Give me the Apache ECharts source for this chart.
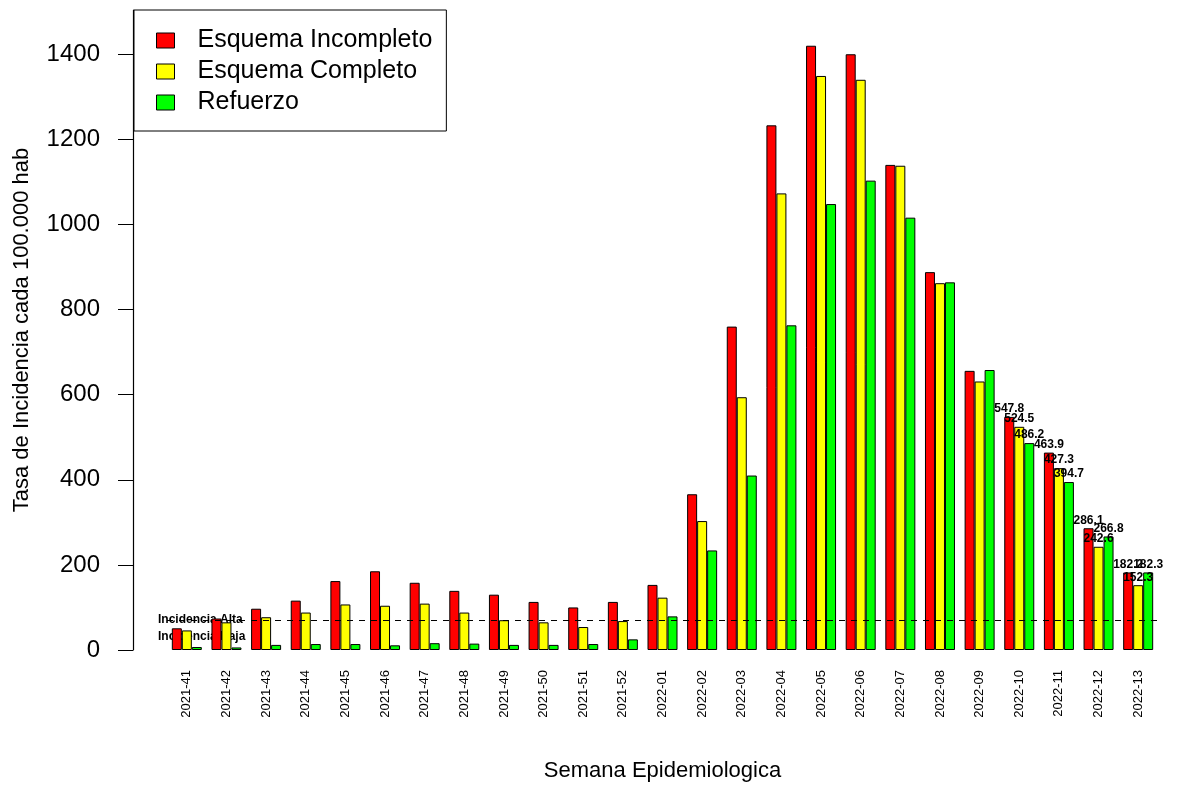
<!DOCTYPE html>
<html><head><meta charset="utf-8">
<script src="https://cdn.jsdelivr.net/npm/echarts@6/dist/echarts.min.js"></script>
<style>html,body{margin:0;background:#fff}#c{width:1185px;height:787px}</style>
</head><body><div id="c"></div>
<script>
var categorias = ['2021-41','2021-42','2021-43','2021-44','2021-45','2021-46','2021-47','2021-48','2021-49','2021-50','2021-51','2021-52',
  '2022-01','2022-02','2022-03','2022-04','2022-05','2022-06','2022-07','2022-08','2022-09','2022-10','2022-11','2022-12','2022-13'];
var incompleto = [51, 74, 97, 116, 162, 185, 158, 139, 130, 113, 100, 113, 153, 366, 760, 1233, 1420, 1400, 1140, 888, 656, 547.8, 463.9, 286.1, 182.2];
var completo   = [46, 65, 77, 88, 107, 104, 109, 88, 70, 65, 54, 68, 123, 303, 594, 1073, 1349, 1340, 1138, 862, 631, 524.5, 427.3, 242.6, 152.3];
var refuerzo   = [7, 6, 12, 14, 14, 11, 16, 15, 12, 12, 14, 25, 79, 234, 410, 763, 1048, 1103, 1016, 864, 658, 486.2, 394.7, 266.8, 182.3];
var umbral = 70;
var conEtiqueta = 4; // ultimas semanas con el valor escrito

var chart = echarts.init(document.getElementById('c'));
var n = categorias.length;

function serie(name, color, data) {
  return {
    name: name, type: 'bar', barWidth: 10, barGap: '0%',
    itemStyle: { color: color, borderColor: '#000', borderWidth: 1 },
    data: data.map(function (v, i) {
      return i >= n - conEtiqueta ? { value: v, label: { show: true } } : v;
    }),
    label: { show: false, position: 'top', distance: 2, fontSize: 12, fontWeight: 'bold', color: '#000' }
  };
}

var s1 = serie('Esquema Incompleto', '#ff0000', incompleto);
s1.markLine = {
  silent: true, symbol: 'none', animation: false,
  lineStyle: { color: '#000', type: [6, 6], width: 1 },
  label: { show: false },
  data: [{ yAxis: umbral }]
};

chart.setOption({
  animation: false,
  textStyle: { fontFamily: 'Liberation Sans' },
  grid: { left: 167, right: 27, top: 10, bottom: 128 },
  legend: {
    left: 134, top: 10, orient: 'vertical', icon: 'rect',
    itemWidth: 18, itemHeight: 15, itemGap: 6,
    padding: [18, 14, 16, 22],
    borderColor: '#000', borderWidth: 1, backgroundColor: '#fff',
    textStyle: { fontSize: 25, color: '#000', padding: [0, 0, 0, 18] },
    itemStyle: { borderColor: '#000', borderWidth: 1 }
  },
  xAxis: {
    type: 'category', data: categorias,
    name: 'Semana Epidemiologica', nameLocation: 'middle', nameGap: 110,
    nameTextStyle: { fontSize: 22, color: '#000' },
    axisLine: { show: false }, axisTick: { show: false },
    axisLabel: { rotate: 90, fontSize: 13, color: '#000', margin: 20 }
  },
  yAxis: {
    type: 'value', min: 0, max: 1504, interval: 200, offset: 34,
    name: 'Tasa de Incidencia cada 100.000 hab', nameLocation: 'middle', nameGap: 100,
    nameTextStyle: { fontSize: 22, color: '#000' },
    axisLine: { show: true, onZero: false, lineStyle: { color: '#000', width: 1.2 } },
    axisTick: { show: true, length: 15, lineStyle: { color: '#000' } },
    axisLabel: { fontSize: 24, color: '#000', margin: 33, showMaxLabel: false, formatter: function (v) { return String(v); } },
    splitLine: { show: false }
  },
  graphic: [
    { type: 'text', left: 158, top: 614, style: { text: 'Incidencia Alta', font: 'bold 12px Liberation Sans', fill: '#000' } },
    { type: 'text', left: 158, top: 631, style: { text: 'Incidencia Baja', font: 'bold 12px Liberation Sans', fill: '#000' } }
  ],
  series: [s1, serie('Esquema Completo', '#ffff00', completo), serie('Refuerzo', '#00ff00', refuerzo)]
});
</script>
</body></html>
